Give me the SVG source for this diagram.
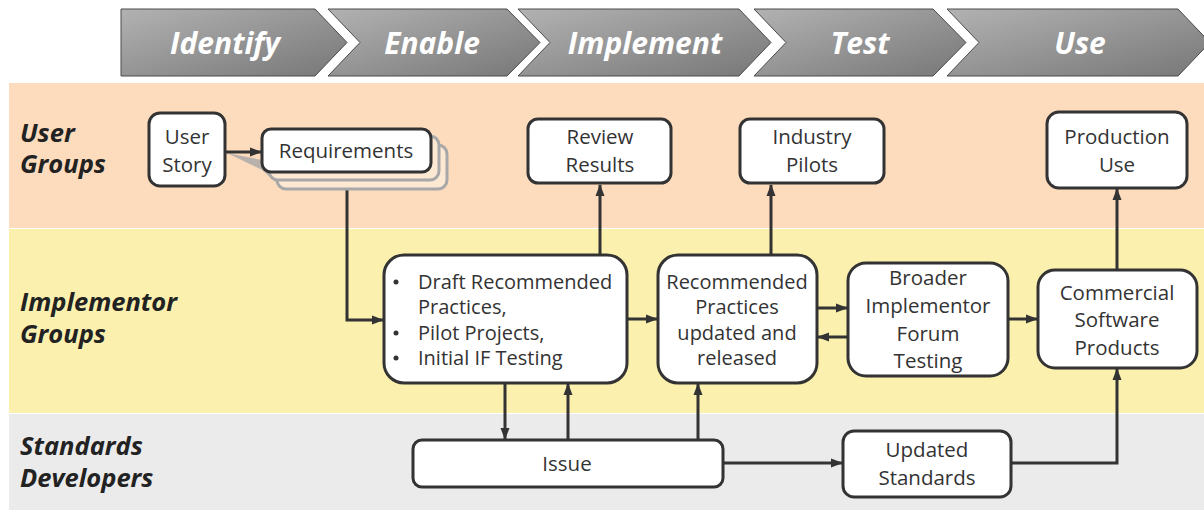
<svg xmlns="http://www.w3.org/2000/svg" width="1204" height="510" viewBox="0 0 1204 510">
  <defs>
    <linearGradient id="chev" x1="0" y1="0" x2="1" y2="1">
      <stop offset="0" stop-color="#b2b2b2"/>
      <stop offset="1" stop-color="#777777"/>
    </linearGradient>
    <marker id="arr" markerUnits="userSpaceOnUse" markerWidth="12" markerHeight="12" viewBox="0 0 12 12" refX="11" refY="6" orient="auto">
      <path d="M0,1.5 L12,6 L0,10.5 Z" fill="#333"/>
    </marker>
    <style>
      .chev { fill: url(#chev); stroke: #4a4a4a; stroke-width: 1; }
      .ctext { font-family: "Open Sans", "Noto Sans", sans-serif; font-weight: bold; font-style: italic; font-size: 30px; fill: #ffffff; text-anchor: middle; }
      .lane { font-family: "Open Sans", "Noto Sans", sans-serif; font-weight: bold; font-style: italic; font-size: 25.5px; fill: #222; }
      .box { fill: #ffffff; stroke: #333; stroke-width: 3; }
      .shadow { fill: #fde8d3; stroke: #a8a8a8; stroke-width: 3; }
      .t { font-family: "Open Sans", "Noto Sans", sans-serif; font-size: 20.5px; fill: #333; text-anchor: middle; }
      .t20 { font-family: "Open Sans", "Noto Sans", sans-serif; font-size: 20px; fill: #333; text-anchor: middle; }
      .tl { font-family: "Open Sans", "Noto Sans", sans-serif; font-size: 20px; fill: #333; }
      .dot { fill: #333; }
      .c { fill: none; stroke: #333; stroke-width: 3; marker-end: url(#arr); }
    </style>
  </defs>

  <!-- lanes -->
  <rect x="9" y="83" width="1195" height="145" fill="#fddcbd"/>
  <rect x="9" y="229" width="1195" height="184" fill="#fbf0ae"/>
  <rect x="9" y="414" width="1195" height="96" fill="#ebebeb"/>

  <text class="lane"><tspan x="20" y="142">User</tspan><tspan x="20" y="173">Groups</tspan></text>
  <text class="lane"><tspan x="20" y="311">Implementor</tspan><tspan x="20" y="343">Groups</tspan></text>
  <text class="lane"><tspan x="20" y="455">Standards</tspan><tspan x="20" y="487">Developers</tspan></text>

  <!-- phase chevrons -->
  <g id="phase-identify">
    <path class="chev" d="M121,9 L315,9 L347,42.5 L315,76 L121,76 Z"/>
    <text class="ctext" x="225" y="54">Identify</text>
  </g>
  <g id="phase-enable">
    <path class="chev" d="M328,9 L507,9 L540,42.5 L507,76 L328,76 L360,42.5 Z"/>
    <text class="ctext" x="432" y="54">Enable</text>
  </g>
  <g id="phase-implement">
    <path class="chev" d="M518,9 L739,9 L771,42.5 L739,76 L518,76 L550,42.5 Z"/>
    <text class="ctext" x="645" y="54">Implement</text>
  </g>
  <g id="phase-test">
    <path class="chev" d="M754,9 L933,9 L966,42.5 L933,76 L754,76 L786,42.5 Z"/>
    <text class="ctext" x="860" y="54">Test</text>
  </g>
  <g id="phase-use">
    <path class="chev" d="M947,9 L1178,9 L1210,42.5 L1178,76 L947,76 L979,42.5 Z"/>
    <text class="ctext" x="1080" y="54">Use</text>
  </g>

  <!-- connectors -->
  <g id="connectors">
    <polygon points="227,153 262,160 278,184 262,170" fill="#a8a8a8" opacity="0.8"/>
    <path class="c" d="M225,152 L261,152"/>
    <path class="c" d="M347,172 L347,320 L383,320"/>
    <path class="c" d="M600,255 L600,185"/>
    <path class="c" d="M771,255 L771,185"/>
    <path class="c" d="M1117,270 L1117,189"/>
    <path class="c" d="M627,319 L657,319"/>
    <path class="c" d="M817,308 L847,308"/>
    <path class="c" d="M848,337 L818,337"/>
    <path class="c" d="M1008,319 L1037,319"/>
    <path class="c" d="M505,383 L505,439"/>
    <path class="c" d="M568,440 L568,384"/>
    <path class="c" d="M698,440 L698,384"/>
    <path class="c" d="M723,463 L842,463"/>
    <path class="c" d="M1011,463 L1117,463 L1117,369"/>
  </g>

  <!-- nodes -->
  <g id="user-story">
    <rect class="box" x="149" y="113" width="76" height="73" rx="11"/>
    <text class="t"><tspan x="187" y="144">User</tspan><tspan x="187" y="172">Story</tspan></text>
  </g>
  <g id="requirements">
    <rect class="shadow" x="277" y="145" width="170" height="44" rx="9"/>
    <rect class="shadow" x="269" y="136" width="170" height="44" rx="9"/>
    <rect class="box" x="262" y="129" width="169" height="43" rx="9"/>
    <text class="t" x="346" y="158">Requirements</text>
  </g>
  <g id="review-results">
    <rect class="box" x="528" y="119" width="143" height="64" rx="10"/>
    <text class="t"><tspan x="600" y="144">Review</tspan><tspan x="600" y="172">Results</tspan></text>
  </g>
  <g id="industry-pilots">
    <rect class="box" x="740" y="119" width="144" height="64" rx="10"/>
    <text class="t"><tspan x="812" y="144">Industry</tspan><tspan x="812" y="172">Pilots</tspan></text>
  </g>
  <g id="production-use">
    <rect class="box" x="1047" y="112" width="140" height="76" rx="12"/>
    <text class="t"><tspan x="1117" y="144">Production</tspan><tspan x="1117" y="172">Use</tspan></text>
  </g>
  <g id="draft">
    <rect class="box" x="384" y="255" width="243" height="128" rx="20"/>
    <circle class="dot" cx="396" cy="282" r="2.5"/>
    <circle class="dot" cx="396" cy="333" r="2.5"/>
    <circle class="dot" cx="396" cy="358" r="2.5"/>
    <text class="tl"><tspan x="418" y="289">Draft Recommended</tspan><tspan x="418" y="314">Practices,</tspan><tspan x="418" y="340">Pilot Projects,</tspan><tspan x="418" y="365">Initial IF Testing</tspan></text>
  </g>
  <g id="recommended">
    <rect class="box" x="658" y="255" width="159" height="128" rx="20"/>
    <text class="t20"><tspan x="737" y="289">Recommended</tspan><tspan x="737" y="314">Practices</tspan><tspan x="737" y="340">updated and</tspan><tspan x="737" y="365">released</tspan></text>
  </g>
  <g id="broader">
    <rect class="box" x="848" y="263" width="160" height="113" rx="18"/>
    <text class="t"><tspan x="928" y="285">Broader</tspan><tspan x="928" y="313">Implementor</tspan><tspan x="928" y="341">Forum</tspan><tspan x="928" y="368">Testing</tspan></text>
  </g>
  <g id="commercial">
    <rect class="box" x="1038" y="270" width="159" height="98" rx="17"/>
    <text class="t"><tspan x="1117" y="300">Commercial</tspan><tspan x="1117" y="327">Software</tspan><tspan x="1117" y="355">Products</tspan></text>
  </g>
  <g id="issue">
    <rect class="box" x="413" y="440" width="310" height="47" rx="9"/>
    <text class="t" x="567" y="471">Issue</text>
  </g>
  <g id="updated-standards">
    <rect class="box" x="843" y="431" width="168" height="66" rx="11"/>
    <text class="t"><tspan x="927" y="457">Updated</tspan><tspan x="927" y="485">Standards</tspan></text>
  </g>
</svg>
